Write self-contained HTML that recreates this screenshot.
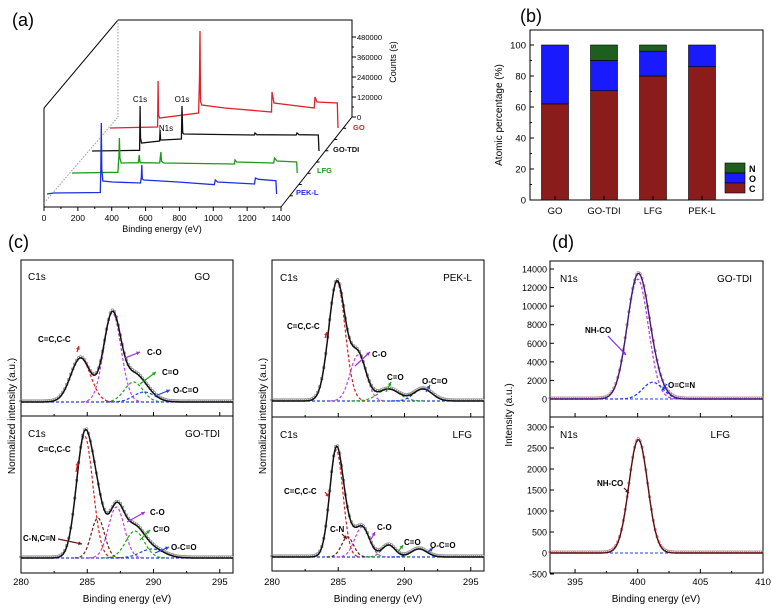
<!DOCTYPE html>
<html><head><meta charset="utf-8"><style>
html,body{margin:0;padding:0;background:#fff;}
svg{display:block;font-family:"Liberation Sans",sans-serif;}
</style></head><body>
<svg id="fig" width="772" height="608" viewBox="0 0 772 608" xmlns="http://www.w3.org/2000/svg"></svg>
<script>
// ---------- DATA ----------
// (a) survey spectra: energies (eV) and counts
var pekE=[0,40,325,328,331,334,340,400,570,575,578,581,590,800,1020,1026,1040,1265,1271,1290,1396,1400];
var pekC=[0,6000,9000,150000,426000,150000,78000,72000,66000,100000,174000,90000,84000,72000,56000,84000,72000,60000,96000,88000,80000,0];
var lfgE=[0,280,286,289,292,300,405,410,415,535,539,542,546,560,990,994,1005,1230,1235,1250,1370,1373];
var lfgC=[0,4000,100000,210000,90000,60000,62000,108000,62000,60000,100000,126000,70000,60000,54000,78000,66000,60000,90000,72000,66000,0];
var tdiE=[0,290,293,296,302,412,415,418,430,545,549,553,560,990,994,1005,1245,1250,1262,1380,1384];
var tdiC=[0,4000,270000,80000,48000,60000,126000,66000,66000,72000,270000,110000,102000,96000,108000,98000,96000,108000,98000,96000,0];
var goE=[0,290,293,296,302,540,546,549,552,560,700,985,988,1000,1245,1250,1262,1386,1390];
var goC=[0,6000,282000,80000,60000,90000,300000,582000,160000,138000,120000,96000,216000,150000,120000,186000,156000,150000,0];
// (b) atomic percentage
var samples=["GO","GO-TDI","LFG","PEK-L"];
var pctC=[62,70.5,80,86];
var pctO=[38,19.5,16,14];
var pctN=[0,10,4,0];
var bTicks=[0,20,40,60,80,100];
// (c) C1s fits: centre, height, sigma
var goCen=[284.5,286.9,288.5,289.3], goH=[44,89,20,10], goS=[0.75,0.65,0.7,0.8];
var tdiCen=[284.8,285.8,287.2,288.6,289.9], tdiH=[122,40,51,27,9], tdiS=[0.62,0.5,0.6,0.7,0.9];
var pekCen=[284.9,286.5,288.8,291.4], pekH=[119,46,12,12], pekS=[0.62,0.6,0.8,0.7];
var lfgCen=[284.85,285.7,286.8,288.8,291.1], lfgH=[107,20,30,12,8], lfgS=[0.5,0.45,0.55,0.5,0.6];
var cTicks=[280,285,290,295];
// (d) N1s fits
var n1Cen=[400.0,401.2], n1H=[12900,1800], n1S=[0.85,0.8];
var n2Cen=[400.05], n2H=[2700], n2S=[0.75];
var dTopTicks=[0,2000,4000,6000,8000,10000,12000,14000];
var dBotTicks=[-500,0,500,1000,1500,2000,2500,3000];
var dXTicks=[395,400,405,410];

// ---------- HELPERS ----------
var svg=document.getElementById('fig');
var NS='http://www.w3.org/2000/svg';
function el(tag,attrs,parent){var e=document.createElementNS(NS,tag);for(var k in attrs)e.setAttribute(k,attrs[k]);(parent||svg).appendChild(e);return e;}
function txt(x,y,s,size,anchor,fill,weight,parent){var t=el('text',{x:x,y:y,'font-size':size,'text-anchor':anchor||'start',fill:fill||'#000','font-weight':weight||'normal'},parent);t.textContent=s;return t;}
function gauss(x,c,h,s){return h*Math.exp(-(x-c)*(x-c)/(2*s*s));}

// ---------- PANEL A ----------
var gA=el('g',{});


var t=txt(12,26,'(a)',18,'start','#000','normal',gA);

var ln='stroke="#000"';
el('polyline',{points:'44,207 44,108 118,20 352,20 352,117',fill:'none',stroke:'#000','stroke-width':1},gA);
el('line',{x1:44,y1:207,x2:281,y2:207,stroke:'#000','stroke-width':1},gA);
el('line',{x1:281,y1:207,x2:352,y2:117,stroke:'#000','stroke-width':1},gA);
el('line',{x1:118,y1:20,x2:118,y2:117,stroke:'#999','stroke-width':1,'stroke-dasharray':'1.5,1.5'},gA);
el('line',{x1:44,y1:203,x2:118,y2:117,stroke:'#999','stroke-width':1,'stroke-dasharray':'1.5,1.5'},gA);
var axA=function(e){return 44+e*(237/1400);};
for(var v=0;v<=1400;v+=100){var x=axA(v);el('line',{x1:x,y1:207,x2:x,y2:v%200==0?211:209,stroke:'#000'},gA);
 if(v%200==0){var tt=txt(x,221,String(v),8.5,'middle','#000','normal',gA);}}
var ayA=function(c){return 117-c/6000;};
for(var c=0;c<=480000;c+=60000){var y=ayA(c);el('line',{x1:352,y1:y,x2:c%120000==0?356:354,y2:y,stroke:'#000'},gA);
 if(c%120000==0){var tt=txt(357,y+3,String(c),7.5,'start','#000','normal',gA);}}
for(var i=1;i<8;i++){var fx=281+i*(71/8),fy=207-i*(90/8);el('line',{x1:fx,y1:fy,x2:fx+3,y2:fy,stroke:'#000'},gA);}
var xt=txt(162,232,'Binding energy (eV)',9,'middle','#000','normal',gA);

var yt=txt(0,0,'Counts (s)',9,'middle','#000','normal',gA);
yt.setAttribute('transform','translate(396,62) rotate(-90)');

var layers=[
 {E:pekE,C:pekC,x0:47,y0:194,col:'#1f2fe0',name:'PEK-L',lx:296,ly:195},
 {E:lfgE,C:lfgC,x0:72,y0:173,col:'#1a9a1a',name:'LFG',lx:317,ly:173},
 {E:tdiE,C:tdiC,x0:92,y0:151,col:'#111',name:'GO-TDI',lx:333,ly:152},
 {E:goE,C:goC,x0:110,y0:128,col:'#e0202a',name:'GO',lx:353,ly:130}];
for(var L=layers.length-1;L>=0;L--){var ly=layers[L];var pts=[];
 for(var i=0;i<ly.E.length;i++){pts.push((ly.x0+ly.E[i]*0.164).toFixed(1)+','+(ly.y0-ly.C[i]/6000).toFixed(1));}
 var pl=el('polyline',{points:pts.join(' '),fill:'none',stroke:ly.col,'stroke-width':1.3},gA);
 
 
 var lt=txt(ly.lx,ly.ly,ly.name,7.5,'start',ly.col,'bold',gA);
 
 }
var pk=[['C1s',140,102],['O1s',182,102],['N1s',166,131]];
for(var i=0;i<pk.length;i++){var pt=txt(pk[i][1],pk[i][2],pk[i][0],8,'middle','#000','normal',gA);
 }

// ---------- PANEL B ----------
var gB=el('g',{});


var tb=txt(520,22,'(b)',18,'start','#000','normal',gB);

var bL=530,bR=763,bT=30,bB=200;
el('rect',{x:bL,y:bT,width:bR-bL,height:bB-bT,fill:'none',stroke:'#000'},gB);
var yB=function(v){return bB-v*1.55;};
var xB=function(i){return 555+i*49;};
for(var i=0;i<bTicks.length;i++){var y=yB(bTicks[i]);el('line',{x1:bL,y1:y,x2:bL+4,y2:y,stroke:'#000'},gB);
 var tl=txt(bL-4,y+3.5,String(bTicks[i]),9.5,'end','#000','normal',gB);
 if(i<bTicks.length-1){el('line',{x1:bL,y1:yB(bTicks[i]+10),x2:bL+2,y2:yB(bTicks[i]+10),stroke:'#000'},gB);}}
var cols={C:'#8b1c1c',O:'#1a1aff',N:'#1e5e1e'};
for(var i=0;i<samples.length;i++){var cx=xB(i),w=27,acc=0;
 var segs=[['C',pctC[i]],['O',pctO[i]],['N',pctN[i]]];
 for(var s=0;s<segs.length;s++){if(segs[s][1]<=0)continue;
  var r=el('rect',{x:cx-w/2,y:yB(acc+segs[s][1]),width:w,height:segs[s][1]*1.55,fill:cols[segs[s][0]],stroke:'#000','stroke-width':0.6},gB);
  
  
  acc+=segs[s][1];}
 el('line',{x1:cx,y1:bB,x2:cx,y2:bB-4,stroke:'#000'},gB);
 var xl=txt(cx,214,samples[i],9.5,'middle','#000','normal',gB);}
var byt=txt(0,0,'Atomic percentage (%)',10,'middle','#000','normal',gB);
byt.setAttribute('transform','translate(502,115) rotate(-90)');

var leg=[['N',163],['O',173],['C',183]];
for(var i=0;i<leg.length;i++){var lr=el('rect',{x:725,y:leg[i][1],width:20,height:10,fill:cols[leg[i][0]],stroke:'#000','stroke-width':0.6},gB);
 
 var lt=txt(749,leg[i][1]+9,leg[i][0],9,'start','#000','bold',gB);}

// ---------- PANEL C ----------
var tc=txt(8,248,'(c)',18,'start','#000','normal');

var td=txt(552,248,'(d)',18,'start','#000','normal');

var compCols5=['#d42020','#6b1a1a','#c040e0','#20a020','#2040e0'];
var compCols4=['#d42020','#c040e0','#20a020','#2040e0'];
function fitPanel(g,x0,x1,eMin,eMax,base,cen,h,sg,ccols,envCol,dataCol,yScale,step){
 var xs=function(e){return x0+(e-eMin)*(x1-x0)/(eMax-eMin);};
 var ys=function(v){return base-v*yScale;};
 el('line',{x1:x0,y1:base,x2:x1,y2:base,stroke:'#2040e0','stroke-width':1.2,'stroke-dasharray':'3,2'},g);
 for(var k=0;k<cen.length;k++){var p=[];
  for(var e=cen[k]-3.5*sg[k];e<=cen[k]+3.5*sg[k];e+=0.05){p.push(xs(e).toFixed(1)+','+ys(gauss(e,cen[k],h[k],sg[k])).toFixed(1));}
  var cl=el('polyline',{points:p.join(' '),fill:'none',stroke:ccols[k],'stroke-width':1.2,'stroke-dasharray':'3,2'},g);
  }
 var env=[];
 for(var e=eMin;e<=eMax+0.001;e+=0.05){var s=0;for(var k=0;k<cen.length;k++)s+=gauss(e,cen[k],h[k],sg[k]);env.push([e,s]);}
 for(var i=0;i<env.length;i+=step){var dc=el('circle',{cx:xs(env[i][0]).toFixed(1),cy:(ys(env[i][1])-1).toFixed(1),r:1.3,fill:'none',stroke:dataCol,'stroke-width':0.7},g);
  }
 var el2=el('polyline',{points:env.map(function(q){return xs(q[0]).toFixed(1)+','+ys(q[1]).toFixed(1);}).join(' '),fill:'none',stroke:envCol,'stroke-width':1.5},g);
 
}
function arrowLabel(g,tx,ty,label,x1,y1,x2,y2,col,anchor){
 el('line',{x1:x1,y1:y1,x2:x2,y2:y2,stroke:col,'stroke-width':1.2},g);
 var a=Math.atan2(y2-y1,x2-x1),L=4;
 el('polygon',{points:x2+','+y2+' '+(x2-L*Math.cos(a-0.5))+','+(y2-L*Math.sin(a-0.5))+' '+(x2-L*Math.cos(a+0.5))+','+(y2-L*Math.sin(a+0.5)),fill:col},g);
 var t=txt(tx,ty,label,8,anchor||'start','#000','bold',g);
}
function cFrame(g,x0,x1,top,mid,bot,eMin,eMax){
 el('rect',{x:x0,y:top,width:x1-x0,height:bot-top,fill:'none',stroke:'#000'},g);
 el('line',{x1:x0,y1:mid,x2:x1,y2:mid,stroke:'#000'},g);
 var xs=function(e){return x0+(e-eMin)*(x1-x0)/(eMax-eMin);};
 for(var e=eMin;e<=eMax;e+=2.5){var x=xs(e);el('line',{x1:x,y1:bot,x2:x,y2:bot-(e%5==0?4:2),stroke:'#000'},g);el('line',{x1:x,y1:mid,x2:x,y2:mid-(e%5==0?4:2),stroke:'#000'},g);}
 for(var i=0;i<cTicks.length;i++){var tl=txt(xs(cTicks[i]),585,String(cTicks[i]),9.5,'middle','#000','normal',g);}
 var xt=txt((x0+x1)/2,602,'Binding energy (eV)',10,'middle','#000','normal',g);
 var yt=txt(0,0,'Normalized intensity (a.u.)',10,'middle','#000','normal',g);yt.setAttribute('transform','translate('+(x0-6)+',416) rotate(-90)');
 
}
// left column
var gC1=el('g',{});


cFrame(gC1,21,233,260,416,573,280,296);
fitPanel(gC1,21,233,280,296,402,goCen,goH,goS,compCols4,'#111','#888',1,3);
fitPanel(gC1,21,233,280,296,558,tdiCen,tdiH,tdiS,compCols5,'#111','#888',1,3);
txt(28,280,'C1s',10,'start','#000','normal',gC1);txt(210,280,'GO',10,'end','#000','normal',gC1);
txt(28,437,'C1s',10,'start','#000','normal',gC1);txt(220,437,'GO-TDI',10,'end','#000','normal',gC1);
arrowLabel(gC1,38,342,'C=C,C-C',77,352,79,346,'#d42020');
arrowLabel(gC1,147,355,'C-O',125,358,140,352,'#a030e0');
arrowLabel(gC1,162,375,'C=O',140,384,156,372,'#20a020');
arrowLabel(gC1,173,393,'O-C=O',155,396,170,390,'#2040e0');
arrowLabel(gC1,38,452,'C=C,C-C',76,472,78,462,'#d42020');
arrowLabel(gC1,23,541,'C-N,C=N',58,539,82,544,'#6b1a1a');
arrowLabel(gC1,150,515,'C-O',127,522,145,512,'#a030e0');
arrowLabel(gC1,153,532,'C=O',140,540,150,530,'#20a020');
arrowLabel(gC1,171,550,'O-C=O',155,553,169,547,'#2040e0');
// right column
var gC2=el('g',{});


cFrame(gC2,272,484,260,417,571,280,296);
fitPanel(gC2,272,484,280,296,401,pekCen,pekH,pekS,compCols4,'#111','#888',1,3);
fitPanel(gC2,272,484,280,296,557,lfgCen,lfgH,lfgS,compCols5,'#111','#888',1,3);
txt(280,281,'C1s',10,'start','#000','normal',gC2);txt(472,281,'PEK-L',10,'end','#000','normal',gC2);
txt(280,438,'C1s',10,'start','#000','normal',gC2);txt(472,438,'LFG',10,'end','#000','normal',gC2);
arrowLabel(gC2,287,329,'C=C,C-C',325,338,327,332,'#d42020');
arrowLabel(gC2,372,357,'C-O',355,366,370,352,'#a030e0');
arrowLabel(gC2,387,380,'C=O',386,392,391,382,'#20a020');
arrowLabel(gC2,422,384,'O-C=O',426,392,430,385,'#2040e0');
arrowLabel(gC2,284,494,'C=C,C-C',325,492,329,497,'#d42020');
arrowLabel(gC2,330,532,'C-N',342,534,347,539,'#6b1a1a');
arrowLabel(gC2,377,530,'C-O',370,541,375,532,'#a030e0');
arrowLabel(gC2,404,545,'C=O',398,552,403,545,'#20a020');
arrowLabel(gC2,430,548,'O-C=O',428,552,433,548,'#2040e0');

// ---------- PANEL D ----------
var gD=el('g',{});


var dL=550,dR=763,dT=261,dM=417,dB=573;
el('rect',{x:dL,y:dT,width:dR-dL,height:dB-dT,fill:'none',stroke:'#000'},gD);
el('line',{x1:dL,y1:dM,x2:dR,y2:dM,stroke:'#000'},gD);
var xD=function(e){return dL+(e-393)*(dR-dL)/17;};
var yTop=function(v){return 399-v*130/14000;};
var yBot=function(v){return 553-v*126/3000;};
for(var e=395;e<=410;e+=2.5){var x=xD(e);el('line',{x1:x,y1:dB,x2:x,y2:dB-(e%5==0?4:2),stroke:'#000'},gD);el('line',{x1:x,y1:dM,x2:x,y2:dM-(e%5==0?4:2),stroke:'#000'},gD);}
for(var i=0;i<dXTicks.length;i++){var tl=txt(xD(dXTicks[i]),585,String(dXTicks[i]),9.5,'middle','#000','normal',gD);}
for(var i=0;i<dTopTicks.length;i++){var y=yTop(dTopTicks[i]);el('line',{x1:dL,y1:y,x2:dL+4,y2:y,stroke:'#000'},gD);
 var tl=txt(dL-3,y+3.5,String(dTopTicks[i]),9,'end','#000','normal',gD);}
for(var i=0;i<dBotTicks.length;i++){var y=yBot(dBotTicks[i]);el('line',{x1:dL,y1:y,x2:dL+4,y2:y,stroke:'#000'},gD);
 var tl=txt(dL-3,y+3.5,String(dBotTicks[i]),9,'end','#000','normal',gD);}
var dxt=txt(656,602,'Binding energy (eV)',10,'middle','#000','normal',gD);
var dyt=txt(0,0,'Intensity (a.u.)',10,'middle','#000','normal',gD);dyt.setAttribute('transform','translate(512,415) rotate(-90)');

function dFit(cen,h,sg,ysf,ccols,envCol,dataCol){
 var base=ysf(0);
 el('line',{x1:dL,y1:base,x2:dR,y2:base,stroke:'#2040e0','stroke-width':1,'stroke-dasharray':'3,2'},gD);
 for(var k=0;k<cen.length;k++){var p=[];for(var e=393;e<=410;e+=0.05)p.push(xD(e).toFixed(1)+','+ysf(gauss(e,cen[k],h[k],sg[k])).toFixed(1));
  var cl=el('polyline',{points:p.join(' '),fill:'none',stroke:ccols[k],'stroke-width':1.3,'stroke-dasharray':'3,2'},gD);
  }
 var env=[];for(var e=393;e<=410.001;e+=0.05){var s=0;for(var k=0;k<cen.length;k++)s+=gauss(e,cen[k],h[k],sg[k]);env.push([e,s]);}
 for(var i=0;i<env.length;i+=3){var dc=el('circle',{cx:xD(env[i][0]).toFixed(1),cy:(ysf(env[i][1])-1).toFixed(1),r:1.2,fill:'none',stroke:dataCol,'stroke-width':0.7},gD);
  }
 var ev=el('polyline',{points:env.map(function(q){return xD(q[0]).toFixed(1)+','+ysf(q[1]).toFixed(1);}).join(' '),fill:'none',stroke:envCol,'stroke-width':1.4},gD);
 
}
dFit(n1Cen,n1H,n1S,yTop,['#c040e0','#2040e0'],'#3a1e7a','#c08090');
dFit(n2Cen,n2H,n2S,yBot,['#e06080'],'#5a1010','#c08090');
txt(560,282,'N1s',10,'start','#000','normal',gD);txt(752,282,'GO-TDI',10,'end','#000','normal',gD);
txt(560,438,'N1s',10,'start','#000','normal',gD);txt(730,438,'LFG',10,'end','#000','normal',gD);
arrowLabel(gD,585,333,'NH-CO',608,336,626,355,'#8030e0');
arrowLabel(gD,668,388,'O=C=N',667,384,662,390,'#2040e0');
arrowLabel(gD,597,486,'NH-CO',624,488,629,493,'#5a1010');
</script>
</body></html>
